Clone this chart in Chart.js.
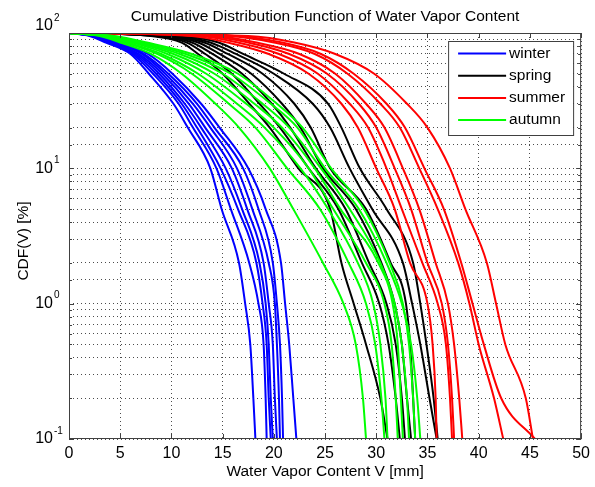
<!DOCTYPE html>
<html>
<head>
<meta charset="utf-8">
<script src="https://cdn.jsdelivr.net/npm/chart.js@4.4.0/dist/chart.umd.min.js"></script>
<style>
  html, body { margin: 0; padding: 0; background: #fff; }
  canvas { display: block; }
</style>
</head>
<body>
<canvas id="cdfChart" width="595" height="487"></canvas>
<script>
// CDF levels [%] shared by every curve
const cdfLevels = [100, 95, 85, 70, 50, 30, 20, 10, 5, 2, 1, 0.5, 0.2, 0.1];

// water vapor content V [mm] at each level, one row per station
const winterV = [
  [0, 2.0, 3.6, 6.0, 7.8, 10.2, 11.6, 13.8, 14.9, 16.6, 17.2, 17.7, 18.0, 18.2],
  [0, 2.2, 3.8, 6.2, 8.2, 10.7, 12.1, 14.4, 15.8, 17.6, 18.5, 19.0, 19.2, 19.3],
  [0, 2.3, 4.0, 6.4, 8.5, 11.0, 12.5, 14.8, 16.5, 18.3, 18.9, 19.3, 19.5, 19.7],
  [0, 2.4, 4.1, 6.6, 8.8, 11.3, 12.9, 15.3, 16.9, 18.6, 19.2, 19.5, 19.7, 19.9],
  [0, 2.5, 4.3, 6.8, 9.1, 11.7, 13.3, 15.9, 17.4, 19.0, 19.5, 19.9, 20.1, 20.3],
  [0, 2.6, 4.5, 7.1, 9.4, 12.1, 13.8, 16.4, 17.9, 19.5, 20.1, 20.3, 20.5, 20.6],
  [0, 2.8, 4.7, 7.3, 9.7, 12.5, 14.2, 17.0, 18.5, 19.9, 20.3, 20.6, 20.8, 20.9],
  [0, 3.0, 5.0, 7.7, 10.1, 12.9, 14.7, 17.5, 19.2, 20.7, 21.1, 21.5, 21.9, 22.2],
];
const springV = [
  [0, 8.0, 11.0, 12.6, 15.0, 17.6, 19.6, 22.4, 25.5, 26.6, 27.8, 29.0, 30.4, 31.1],
  [0, 8.5, 11.5, 13.3, 15.9, 18.6, 20.6, 23.4, 26.3, 28.6, 30.3, 31.2, 31.9, 32.3],
  [0, 9.0, 12.0, 14.0, 16.9, 19.8, 21.6, 24.1, 27.0, 29.3, 31.0, 31.9, 32.5, 32.8],
  [0, 9.5, 12.6, 14.7, 17.8, 20.8, 22.6, 24.8, 28.0, 30.5, 31.8, 32.5, 33.0, 33.4],
  [0, 10.0, 13.2, 15.5, 18.9, 22.0, 23.6, 25.5, 29.0, 31.4, 32.9, 33.3, 33.6, 33.8],
  [0, 10.5, 13.8, 16.3, 20.0, 23.8, 25.5, 27.4, 29.6, 32.6, 33.5, 34.3, 35.2, 35.9],
  [0, 11.0, 14.6, 17.0, 21.0, 25.3, 26.6, 28.4, 31.0, 33.6, 34.3, 34.9, 35.6, 36.0],
];
const summerV = [
  [0, 12.0, 15.5, 19.5, 23.4, 26.6, 28.2, 30.0, 31.8, 33.3, 35.0, 35.5, 35.8, 35.9],
  [0, 12.8, 16.5, 20.5, 24.3, 27.4, 29.2, 31.0, 32.5, 34.5, 36.0, 36.8, 37.2, 37.4],
  [0, 13.5, 17.5, 21.5, 25.2, 28.3, 30.0, 31.8, 33.4, 35.0, 36.4, 37.0, 37.4, 37.6],
  [0, 14.2, 18.3, 22.5, 26.0, 29.0, 30.8, 32.6, 34.2, 35.8, 37.0, 37.6, 38.1, 38.4],
  [0, 15.5, 20.0, 24.0, 27.2, 30.4, 32.3, 34.2, 36.0, 38.0, 39.1, 40.0, 41.5, 42.4],
  [0, 16.2, 20.8, 24.6, 27.8, 31.0, 32.8, 34.7, 36.6, 38.3, 39.4, 40.5, 42.2, 45.5],
  [0, 17.5, 22.0, 26.0, 29.8, 33.0, 35.0, 37.2, 38.7, 40.8, 41.7, 42.6, 44.6, 45.3],
];
const autumnV = [
  [0, 3.0, 5.0, 8.0, 11.0, 14.3, 16.6, 19.6, 21.9, 24.8, 26.8, 28.0, 28.7, 29.0],
  [0, 3.3, 5.5, 8.6, 12.0, 15.6, 18.2, 21.3, 24.5, 27.3, 29.0, 29.9, 30.5, 30.8],
  [0, 3.5, 5.8, 9.0, 12.6, 16.4, 19.1, 22.6, 25.3, 28.2, 29.7, 30.4, 30.9, 31.1],
  [0, 3.6, 6.2, 9.6, 13.4, 17.3, 20.0, 23.4, 25.8, 29.0, 30.8, 31.5, 31.9, 32.1],
  [0, 3.8, 6.5, 10.2, 14.2, 18.1, 20.8, 24.0, 26.5, 30.2, 31.6, 32.1, 32.4, 32.6],
  [0, 4.0, 6.8, 10.8, 15.0, 18.9, 21.5, 24.6, 27.4, 30.4, 31.8, 32.5, 33.0, 33.2],
  [0, 4.2, 7.2, 11.4, 15.8, 19.7, 22.3, 25.0, 28.3, 31.0, 32.5, 33.4, 34.0, 34.3],
  [0, 4.4, 7.6, 12.0, 16.5, 20.3, 22.8, 25.6, 28.8, 31.3, 32.6, 33.2, 33.6, 33.8],
];

const seasonNames = ['winter', 'spring', 'summer', 'autumn'];
const seasonColors = ['#0000ff', '#000000', '#ff0000', '#00ff00'];
const seasonCurves = [winterV, springV, summerV, autumnV];

const FONT = '"Liberation Sans", Arial, Helvetica, sans-serif';
const AXIS_COLOR = '#404040';
const GRID_COLOR = 'rgba(0, 0, 0, 0.7)';

const datasets = [];
seasonCurves.forEach((curves, s) => {
  curves.forEach((vals) => {
    datasets.push({
      label: seasonNames[s],
      data: vals.map((v, i) => ({ x: v, y: cdfLevels[i] })),
      borderColor: seasonColors[s],
      borderWidth: 2,
      pointRadius: 0,
      fill: false,
      cubicInterpolationMode: 'monotone',
      order: 3 - s, // later seasons drawn on top
    });
  });
});

// frame, inward ticks, legend, titles and 10^n labels
const matlabAxes = {
  id: 'matlabAxes',
  afterDatasetsDraw(chart) {
    const { ctx, chartArea: a, scales } = chart;
    ctx.save();
    ctx.strokeStyle = AXIS_COLOR;
    ctx.lineWidth = 1;
    ctx.strokeRect(a.left + 0.5, a.top + 0.5, a.right - a.left - 1, a.bottom - a.top - 1);

    ctx.beginPath();
    scales.x.ticks.forEach((t) => {
      const px = Math.round(scales.x.getPixelForValue(t.value)) + 0.5;
      ctx.moveTo(px, a.bottom); ctx.lineTo(px, a.bottom - 5);
      ctx.moveTo(px, a.top); ctx.lineTo(px, a.top + 5);
    });
    scales.y.ticks.forEach((t) => {
      const py = Math.round(scales.y.getPixelForValue(t.value)) + 0.5;
      const len = t.major ? 5 : 3;
      ctx.moveTo(a.left, py); ctx.lineTo(a.left + len, py);
      ctx.moveTo(a.right, py); ctx.lineTo(a.right - len, py);
    });
    ctx.stroke();

    // legend box
    const w = 125, h = 94;
    const lx = a.right - 8 - w, ly = a.top + 8;
    ctx.fillStyle = '#fff';
    ctx.fillRect(lx, ly, w, h);
    ctx.strokeStyle = AXIS_COLOR;
    ctx.strokeRect(lx + 0.5, ly + 0.5, w, h);
    ctx.font = '15.5px ' + FONT;
    ctx.textBaseline = 'middle';
    seasonNames.forEach((name, i) => {
      const y = ly + 12.5 + i * 22.2;
      ctx.strokeStyle = seasonColors[i];
      ctx.lineWidth = 2;
      ctx.beginPath();
      ctx.moveTo(lx + 10, y); ctx.lineTo(lx + 58, y);
      ctx.stroke();
      ctx.fillStyle = '#000';
      ctx.fillText(name, lx + 61, y);
    });
    ctx.restore();
  },
  afterDraw(chart) {
    const { ctx, chartArea: a, scales } = chart;
    const cx = (a.left + a.right) / 2;
    ctx.save();
    ctx.fillStyle = '#000';

    ctx.font = '15.5px ' + FONT;
    ctx.textAlign = 'center';
    ctx.textBaseline = 'alphabetic';
    ctx.fillText('Cumulative Distribution Function of Water Vapor Content', cx, 21);
    ctx.fillText('Water Vapor Content V [mm]', cx, 476);

    ctx.save();
    ctx.translate(28, (a.top + a.bottom) / 2 + 5);
    ctx.rotate(-Math.PI / 2);
    ctx.fillText('CDF(V) [%]', 0, 0);
    ctx.restore();

    // decade labels 10^n
    scales.y.ticks.filter((t) => t.major).forEach((t) => {
      const exp = Math.round(Math.log10(t.value));
      let y = scales.y.getPixelForValue(t.value);
      if (y - a.top < 1) y -= 7;
      ctx.textBaseline = 'middle';
      ctx.textAlign = 'right';
      ctx.font = '16px ' + FONT;
      ctx.fillText('10', 53, y);
      ctx.textAlign = 'left';
      ctx.font = '10px ' + FONT;
      ctx.fillText(String(exp), 54, y - 8);
    });
    ctx.restore();
  },
};

new Chart(document.getElementById('cdfChart'), {
  type: 'line',
  data: { datasets },
  options: {
    responsive: false,
    animation: false,
    layout: { padding: { top: 33, right: 10, left: 0, bottom: 0 } },
    plugins: {
      legend: { display: false },
      title: { display: false },
      tooltip: { enabled: false },
    },
    scales: {
      x: {
        type: 'linear',
        min: 0,
        max: 50,
        ticks: {
          stepSize: 5,
          color: '#000',
          font: { family: FONT, size: 16 },
          padding: 5,
          maxRotation: 0,
          autoSkip: false,
        },
        grid: { color: GRID_COLOR, drawTicks: false },
        border: { display: false, dash: [1, 3] },
        afterFit(scale) { scale.height = 48; },
      },
      y: {
        type: 'logarithmic',
        min: 0.1,
        max: 100,
        ticks: { display: false },
        grid: { color: GRID_COLOR, drawTicks: false },
        border: { display: false, dash: [1, 3] },
        afterFit(scale) { scale.width = 69; },
      },
    },
  },
  plugins: [matlabAxes],
});
</script>
</body>
</html>
